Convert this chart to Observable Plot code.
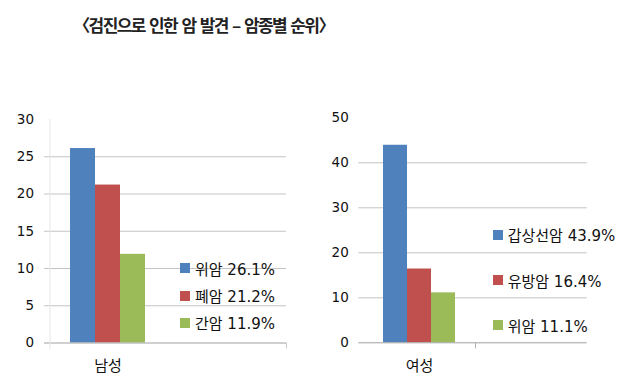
<!DOCTYPE html>
<html><head><meta charset="utf-8">
<script src="https://cdn.jsdelivr.net/npm/d3@7"></script>
<script src="https://cdn.jsdelivr.net/npm/@observablehq/plot@0.6"></script>
<style>
body{margin:0;background:#fff;}
#wrap{position:relative;width:627px;height:392px;overflow:hidden;background:#fff;}
#title{position:absolute;left:0;width:407px;top:12px;text-align:center;font-family:"Noto Sans CJK KR";font-weight:700;font-size:17px;letter-spacing:-1.6px;word-spacing:2px;color:#222;line-height:26px;white-space:nowrap}
.chart{position:absolute;top:100px}
.leg{position:absolute;display:flex;align-items:center;height:20px;font-family:"DejaVu Sans","Noto Sans CJK KR";font-size:15px;color:#111;white-space:nowrap}
.sw{width:10px;height:10px;margin-right:5px;flex:none}
</style></head><body><div id="wrap"><div id="title"></div></div>
<script>
const title = "〈검진으로 인한 암 발견 – 암종별 순위〉";
const maleCategory = "남성";
const maleCancers = ["위암", "폐암", "간암"];
const maleValues = [26.1, 21.2, 11.9];
const maleYTicks = [0, 5, 10, 15, 20, 25, 30];
const femaleCategory = "여성";
const femaleCancers = ["갑상선암", "유방암", "위암"];
const femaleValues = [43.9, 16.4, 11.1];
const femaleYTicks = [0, 10, 20, 30, 40, 50];
const colors = ["#4f81bd", "#c0504d", "#9bbb59"];

const wrap = document.getElementById("wrap");
document.getElementById("title").textContent = title;

function chart(cfg) {
  const rows = cfg.cancers.map((c, i) => ({cancer: c, value: cfg.values[i]}));
  const max = cfg.ticks[cfg.ticks.length - 1];
  const frameW = cfg.width - cfg.mL - cfg.mR;
  const marks = [
    Plot.ruleY(cfg.ticks.filter(t => t > 0 && t < max), {stroke: "#c4c4c4", insetLeft: -cfg.gridInset}),
    Plot.barY(rows, {x: "cancer", y: "value", fill: "cancer"}),
    Plot.ruleY([0], {stroke: "#a0a0a0", insetLeft: -cfg.gridInset}),
    Plot.text([cfg.category], {x: () => cfg.cancers[1], text: d => d, frameAnchor: "bottom", dy: 28,
      fontSize: 15, fontFamily: "Noto Sans CJK KR", fill: "#111"})
  ];
  if (cfg.edgeTicks) {
    marks.push(Plot.ruleX([0], {x: null, y1: () => max, y2: () => 0, insetBottom: -7, dx: -frameW / 2 + 0.5, stroke: "#e6e6e6"}));
    marks.push(Plot.ruleX([0], {x: null, y1: () => 0, y2: () => 0, insetBottom: -6, dx: frameW / 2, stroke: "#c8c8c8"}));
  } else {
    marks.push(Plot.ruleX([0], {x: null, y1: () => 0, y2: () => 0, insetBottom: -6, dx: 2.5, stroke: "#b0b0b0"}));
  }
  const svg = Plot.plot({
    width: cfg.width, height: cfg.height,
    marginLeft: cfg.mL, marginRight: cfg.mR, marginTop: cfg.mT, marginBottom: cfg.mB,
    style: {fontFamily: "'DejaVu Sans', 'Noto Sans CJK KR'", fontSize: "13.5px", color: "#111", background: "transparent"},
    x: {domain: cfg.cancers, axis: null, paddingInner: 0, paddingOuter: cfg.paddingOuter, align: cfg.align},
    y: {domain: [0, max], ticks: cfg.ticks, tickSize: 0, tickPadding: cfg.tickPadding, label: null},
    color: {domain: cfg.cancers, range: colors},
    marks
  });
  svg.classList.add("chart");
  svg.style.left = cfg.left + "px";
  wrap.appendChild(svg);
  cfg.cancers.forEach((c, i) => {
    const row = document.createElement("div");
    row.className = "leg";
    row.style.left = cfg.legX + "px";
    row.style.top = (cfg.legY[i] - 10) + "px";
    const sw = document.createElement("div");
    sw.className = "sw";
    sw.style.background = colors[i];
    row.appendChild(sw);
    const t = document.createElement("span");
    t.textContent = c + " " + cfg.values[i].toFixed(1) + "%";
    row.appendChild(t);
    wrap.appendChild(row);
  });
}

chart({category: maleCategory, cancers: maleCancers, values: maleValues, ticks: maleYTicks,
  left: 0, width: 300, height: 290, mL: 49, mR: 14, mT: 19, mB: 47.5,
  paddingOuter: 3.058, align: 0.129, gridInset: 5, tickPadding: 15.5, edgeTicks: true,
  legX: 180, legY: [268.3, 295.5, 322.5]});

chart({category: femaleCategory, cancers: femaleCancers, values: femaleValues, ticks: femaleYTicks,
  left: 310, width: 300, height: 290, mL: 48.3, mR: 23.3, mT: 17.3, mB: 47.7,
  paddingOuter: 3.105, align: 0.158, gridInset: 0, tickPadding: 10, edgeTicks: false,
  legX: 492.7, legY: [234.5, 280, 325]});
</script></body></html>
